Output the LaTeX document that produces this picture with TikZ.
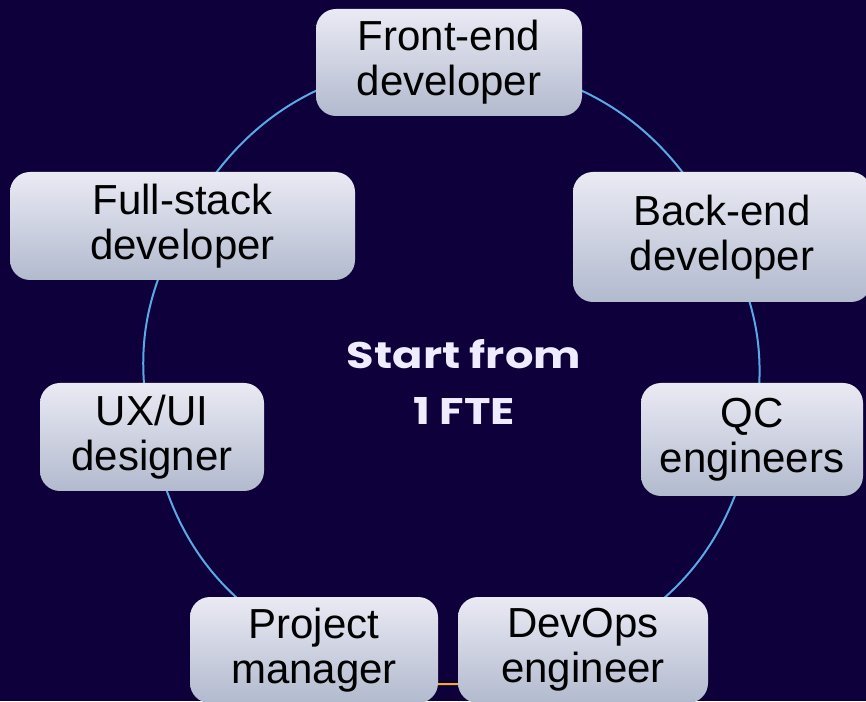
\documentclass[tikz,border=0pt]{standalone}
\usepackage{fontspec}
\setmainfont{Liberation Sans}
\newfontfamily\headfont[FakeStretch=1.21]{Poppins}
\usepackage{tikz}
\usetikzlibrary{backgrounds}

\definecolor{bgnavy}{RGB}{14,0,58}
\definecolor{boxtop}{RGB}{234,234,244}
\definecolor{boxbot}{RGB}{178,186,206}
\definecolor{ringblue}{RGB}{90,169,230}
\definecolor{ringgold}{RGB}{240,176,32}
\definecolor{headtext}{RGB}{240,236,255}

\tikzset{
  role/.style={rounded corners=20pt, top color=boxtop, bottom color=boxbot,
    align=center, inner sep=0pt, text=black,
    font=\fontsize{42}{45}\selectfont},
  ring/.style={ringblue, line width=2pt}
}

\begin{document}
\begin{tikzpicture}[x=1pt, y=1pt]
                \useasboundingbox (0,0) rectangle (866,701);

                % Roles around the ring
                \node[role, minimum width=266, minimum height=107] (front) at (449,638.5) {Front-end\\developer};
                \node[role, minimum width=298, minimum height=130] (back) at (722,464) {Back-end\\developer};
                \node[role, minimum width=222, minimum height=113] (qc) at (752,261.5) {QC\\engineers};
                \node[role, minimum width=250, minimum height=106] (devops) at (583,51) {DevOps\\engineer};
                \node[role, minimum width=248, minimum height=106] (pm) at (314,51) {Project\\manager};
                \node[role, minimum width=224, minimum height=108] (ux) at (152,264) {UX/UI\\designer};
                \node[role, minimum width=345, minimum height=108] (full) at (182.5,475) {Full-stack\\developer};

                % Centre label
                \node[align=center, text=headtext, font=\headfont\bfseries\fontsize{37}{56}\selectfont] (start) at (464,319) {Start from\\1 FTE};

                \begin{pgfonlayer}{background}
                % Background
                \fill[bgnavy] (0,0) rectangle (866,701);
                % Ring
                \draw[ring] (front.center) to[bend left=31.8] (back.center);
                \draw[ring] (back.center) to[bend left=19.7] (qc.center);
                \draw[ring] (qc.center) to[bend left=25.9] (devops.center);
                \draw[ring, ringgold] (devops.center) to[bend left=25.8] (pm.center);
                \draw[ring] (pm.center) to[bend left=25.7] (ux.center);
                \draw[ring] (ux.center) to[bend left=20.4] (full.center);
                \draw[ring] (full.center) to[bend left=30.9] (front.center);
                \end{pgfonlayer}
\end{tikzpicture}
\end{document}
